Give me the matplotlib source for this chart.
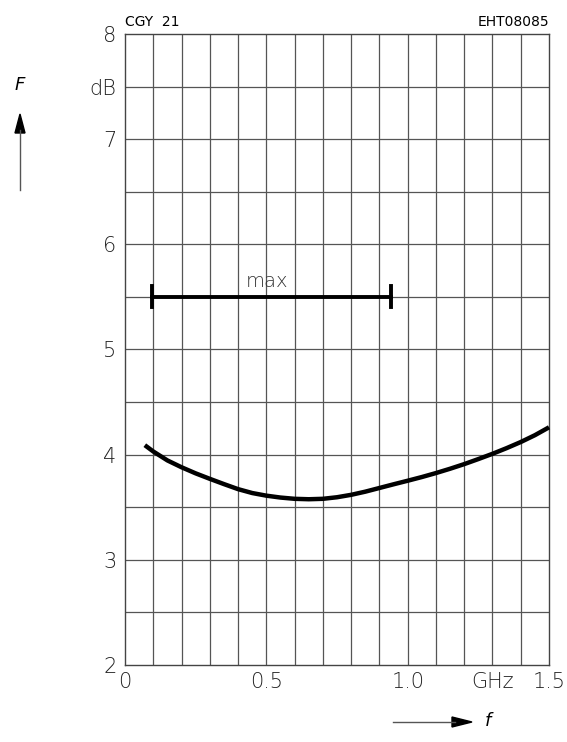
import matplotlib.pyplot as plt
import numpy as np

# noise figure curve (GHz, dB)
freq = [0.07, 0.10, 0.15, 0.20, 0.25, 0.30, 0.35, 0.40, 0.45, 0.50, 0.55, 0.60, 0.65, 0.70,
        0.75, 0.80, 0.85, 0.90, 0.95, 1.00, 1.05, 1.10, 1.15, 1.20, 1.25, 1.30, 1.35, 1.40,
        1.45, 1.50]
nf = [4.09, 4.03, 3.945, 3.88, 3.822, 3.77, 3.72, 3.672, 3.635, 3.61, 3.592, 3.58, 3.576, 3.58,
      3.595, 3.618, 3.648, 3.683, 3.718, 3.752, 3.787, 3.825, 3.866, 3.91, 3.958, 4.008, 4.062,
      4.12, 4.185, 4.26]

# "max" range bar
max_range = [0.095, 0.94]
max_level = 5.5

x_ticks = [0, 0.5, 1.0, 1.3, 1.5]
x_labels = ['0', '0.5', '1.0', 'GHz', '1.5']
y_ticks = [2, 3, 4, 5, 6, 7, 7.5, 8]
y_labels = ['2', '3', '4', '5', '6', '7', 'dB', '8']

plt.rcParams['font.family'] = ['DejaVu Sans']

fig = plt.figure(figsize=(5.67, 7.42), dpi=100)
ax = fig.add_axes([0.2205, 0.1038, 0.7478, 0.8504])

ax.set_xlim(0, 1.5)
ax.set_ylim(2, 8)

#网格
ax.vlines(np.arange(0.1, 1.45, 0.1), 2, 8, color='#555555', lw=0.9, zorder=1)
ax.hlines(np.arange(2.5, 7.9, 0.5), 0, 1.5, color='#555555', lw=0.9, zorder=1)
ax.tick_params(which='both', length=0)

ax.set_xticks(x_ticks)
ax.set_xticklabels(x_labels, fontsize=15, fontweight='light', color='#222222')
ax.set_yticks(y_ticks)
ax.set_yticklabels(y_labels, fontsize=15, fontweight='light', color='#222222')
ax.tick_params(axis='x', pad=5)
ax.tick_params(axis='y', pad=6)
for s in ax.spines.values():
    s.set_color('#444444')
    s.set_linewidth(1.0)

#曲线
ax.plot(freq, nf, color='black', lw=3.2, solid_capstyle='butt', solid_joinstyle='round',
        zorder=3, clip_on=False)

#max 标记
ax.plot(max_range, [max_level, max_level], color='black', lw=2.8, zorder=3)
for xv in max_range:
    ax.plot([xv, xv], [max_level - 0.1, max_level + 0.1], color='black', lw=2.8, zorder=3)
ax.text(np.mean(max_range) - 0.015, max_level + 0.06, 'max', ha='center', va='bottom',
        fontsize=14, fontweight='light', color='#333333')

#标题文字
ax.text(0.0, 1.008, 'CGY  21', transform=ax.transAxes, ha='left', va='bottom', fontsize=10)
ax.text(1.0, 1.008, 'EHT08085', transform=ax.transAxes, ha='right', va='bottom', fontsize=10)

#坐标轴箭头
fig.text(20 / 567, 1 - 85 / 742, 'F', style='italic', fontsize=13, ha='center', va='center',
         fontweight='light')
fig.add_artist(plt.Line2D([20 / 567, 20 / 567], [1 - 190 / 742, 1 - 130 / 742],
                          color='#555555', lw=1))
fig.patches.append(plt.Polygon([[15 / 567, 1 - 133 / 742], [25 / 567, 1 - 133 / 742],
                                [20 / 567, 1 - 114 / 742]], closed=True, color='black',
                               transform=fig.transFigure))
fig.text(488 / 567, 1 - 721 / 742, 'f', style='italic', fontsize=13, ha='center',
         va='center', fontweight='light')
fig.add_artist(plt.Line2D([393 / 567, 455 / 567], [1 - 722 / 742, 1 - 722 / 742],
                          color='#555555', lw=1))
fig.patches.append(plt.Polygon([[452 / 567, 1 - 717 / 742], [452 / 567, 1 - 727 / 742],
                                [472 / 567, 1 - 722 / 742]], closed=True, color='black',
                               transform=fig.transFigure))

fig.savefig('out.png', dpi=100)
